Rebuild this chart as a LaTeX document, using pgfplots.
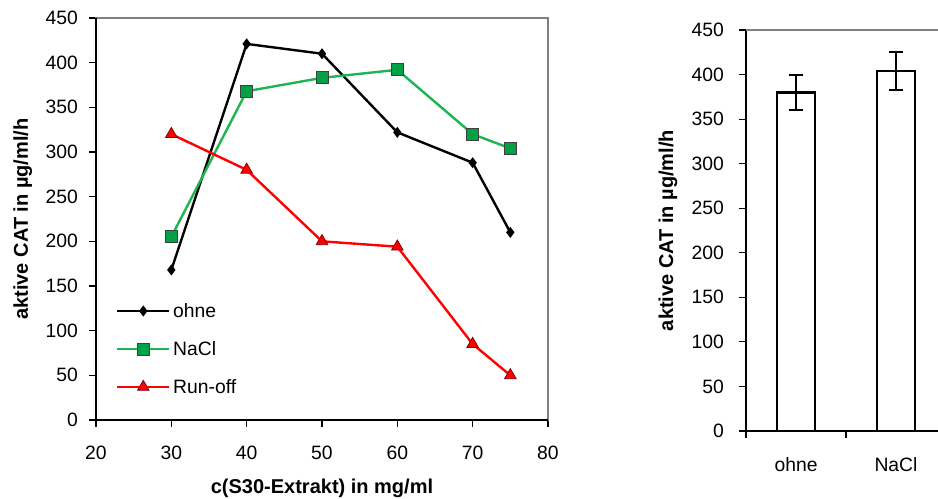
\documentclass[border=0pt]{standalone}
\usepackage{fontspec}
\setmainfont{Liberation Sans}
\usepackage{pgfplots}
\pgfplotsset{compat=1.18}
\definecolor{lgreen}{RGB}{30,180,80}
\definecolor{mgreen}{RGB}{0,160,70}
\definecolor{axgray}{RGB}{128,128,128}
\begin{document}
\begin{tikzpicture}[font=\fontsize{14.5}{17}\selectfont]
\useasboundingbox (-72pt,-59.25pt) rectangle (631.5pt,315pt);
\begin{axis}[
  at={(0pt,0pt)}, anchor=south west, scale only axis,
  width=339pt, height=301.5pt,
  xmin=20, xmax=80, ymin=0, ymax=450,
  xtick={20,30,...,80}, ytick={0,50,...,450},
  /pgf/number format/assume math mode=true,
  ticklabel style={font=\fontsize{14.5}{17}\selectfont},
  axis line style={draw=axgray, line width=0.8pt},
  tick style={black, line width=0.8pt},
  tick align=outside, xtick pos=bottom, ytick pos=left,
  major tick length=5pt,
  xticklabel style={yshift=-11pt},
  yticklabel style={xshift=-5pt},
  clip=false,
  xlabel={\textbf{c(S30-Extrakt) in mg/ml}},
  ylabel={\textbf{aktive CAT in µg/ml/h}},
  label style={font=\fontsize{15}{18}\selectfont},
  x label style={at={(axis description cs:0.5,-0.17)}, anchor=center},
  y label style={at={(axis description cs:-0.162,0.5)}, anchor=center},
  legend cell align=left,
  legend style={draw=none, fill=none, at={(0.035,0.305)}, anchor=north west, row sep=12.5pt, font=\fontsize{14.5}{17}\selectfont},
  legend image code/.code={\draw[#1, mark repeat=2, mark phase=2] plot coordinates {(0pt,0pt) (19.5pt,0pt) (39pt,0pt)};},
]
\draw[black, line width=1pt] (rel axis cs:0,1) -- (rel axis cs:0,0) -- (rel axis cs:1,0);
\addplot[black, line width=1.8pt, mark=diamond*, mark size=3.5pt, mark options={solid, fill=black, line width=0.8pt}]
  coordinates {(30,168) (40,421) (50,410) (60,322) (70,288) (75,210)};
\addlegendentry{ohne}
\addplot[lgreen, line width=1.8pt, mark=square*, mark size=4.5pt, mark options={solid, fill=mgreen, draw=darkgray, line width=0.7pt}]
  coordinates {(30,205) (40,368) (50,383) (60,392) (70,320) (75,304)};
\addlegendentry{NaCl}
\addplot[red, line width=1.8pt, mark=triangle*, mark size=5pt, mark options={solid, fill=red, draw=red!50!black, line width=0.6pt}]
  coordinates {(30,320) (40,280) (50,200) (60,194) (70,85) (75,50)};
\addlegendentry{Run-off}
\end{axis}
\begin{axis}[
  at={(487.5pt,-8.25pt)}, anchor=south west, scale only axis,
  width=144pt, height=300.75pt,
  xmin=0.5, xmax=2.42, ymin=0, ymax=450,
  ytick={0,50,...,450},
  xtick={1,2}, xticklabels={ohne,NaCl},
  /pgf/number format/assume math mode=true,
  ticklabel style={font=\fontsize{14.5}{17}\selectfont},
  axis x line*=bottom, axis y line*=left,
  axis line style={-, black, line width=1pt},
  xtick style={draw=none},
  ytick style={black, line width=0.8pt},
  tick align=outside, major tick length=5pt,
  extra x ticks={0.5,1.5},
  extra x tick labels={},
  extra x tick style={xtick style={draw=black, line width=0.8pt}, major tick length=5pt, tick align=outside},
  xticklabel style={yshift=-11pt},
  yticklabel style={xshift=-8pt},
  clip=false,
  ylabel={\textbf{aktive CAT in µg/ml/h}},
  label style={font=\fontsize{15}{18}\selectfont},
  y label style={at={(axis description cs:-0.406,0.5)}, anchor=center},
]
\draw[axgray, line width=1pt] (rel axis cs:0,1) -- (rel axis cs:1,1);
\addplot[ybar, bar width=28.5pt, fill=white, draw=black, line width=1.8pt,
  error bars/.cd, y dir=both, y explicit,
  error bar style={line width=1.5pt},
  error mark options={rotate=90, mark size=5pt, line width=1.5pt}]
  coordinates {(1,380) +- (0,20) (2,404) +- (0,21)};
\end{axis}
\end{tikzpicture}
\end{document}
